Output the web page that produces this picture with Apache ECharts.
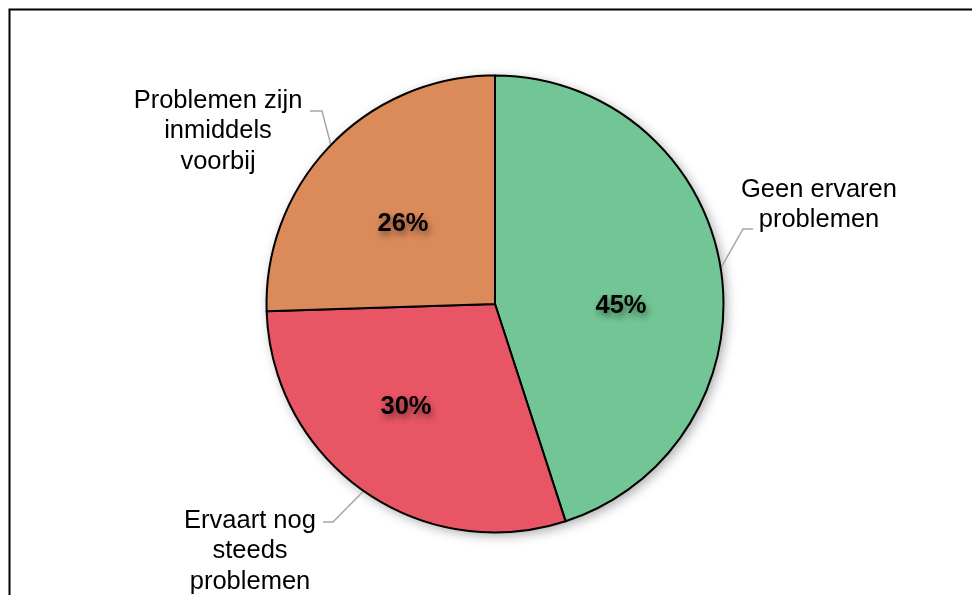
<!DOCTYPE html>
<html>
<head>
<meta charset="utf-8">
<script src="https://cdn.jsdelivr.net/npm/echarts@6/dist/echarts.min.js"></script>
<style>
html,body{margin:0;padding:0;background:#fff;}
#chart{width:972px;height:595px;}
</style>
</head>
<body>
<div id="chart"></div>
<script>
const categories = ['Geen ervaren\nproblemen', 'Ervaart nog\nsteeds\nproblemen', 'Problemen zijn\ninmiddels\nvoorbij'];
const values = [45, 29.5, 25.5];
const colors = ['#72C594', '#E85565', '#DB8A5A'];

// label placement (centre of text block) and line elbows
const outerLabelPos = [[819, 205], [250, 551], [218, 131]];
const outerLineElbow = [[[743, 229], [753, 229]], [[333, 522], [323, 522]], [[322, 111], [310, 111]]];
const innerLabelPos = [[621, 306], [406, 407], [403, 224]];

const FONT = '"Liberation Sans", Arial, sans-serif';
const center = [495, 304];
const radius = 228.5;

const data = categories.map((c, i) => ({ name: c, value: values[i], itemStyle: { color: colors[i] } }));

const chart = echarts.init(document.getElementById('chart'), null, { renderer: 'canvas' });
chart.setOption({
  animation: false,
  backgroundColor: '#fff',
  graphic: [{
    type: 'rect',
    shape: { x: 9.5, y: 9.5, width: 1000, height: 1000 },
    style: { fill: 'none', stroke: '#000', lineWidth: 2 },
    silent: true, z: 100
  }],
  series: [
    {
      type: 'pie',
      center: center,
      radius: radius,
      startAngle: 90,
      clockwise: true,
      z: 1,
      silent: true,
      data: [{ value: 1, itemStyle: { color: '#fff' } }],
      label: { show: false },
      labelLine: { show: false },
      itemStyle: { shadowBlur: 12, shadowColor: 'rgba(0,0,0,0.35)', shadowOffsetX: 3, shadowOffsetY: 3 }
    },
    {
      type: 'pie',
      center: center,
      radius: radius,
      startAngle: 90,
      clockwise: true,
      z: 2,
      silent: true,
      data: data,
      itemStyle: { borderColor: '#000', borderWidth: 2 },
      label: {
        show: true,
        position: 'outside',
        fontFamily: FONT,
        fontSize: 25.5,
        lineHeight: 30.5,
        color: '#000',
        align: 'center'
      },
      labelLine: {
        show: true,
        length: 20,
        length2: 10,
        lineStyle: { color: '#A6A6A6', width: 1.5 }
      },
      labelLayout: function (params) {
        const i = params.dataIndex;
        const p0 = params.labelLinePoints ? params.labelLinePoints[0] : null;
        const res = {
          x: outerLabelPos[i][0],
          y: outerLabelPos[i][1],
          align: 'center',
          verticalAlign: 'middle'
        };
        if (p0) {
          res.labelLinePoints = [p0, outerLineElbow[i][0], outerLineElbow[i][1]];
        }
        return res;
      }
    },
    {
      type: 'pie',
      center: center,
      radius: radius,
      startAngle: 90,
      clockwise: true,
      z: 3,
      silent: true,
      data: data.map(d => ({ name: d.name, value: d.value, itemStyle: { color: 'rgba(0,0,0,0)' } })),
      itemStyle: { borderWidth: 0 },
      label: {
        show: true,
        position: 'inside',
        formatter: p => Math.round(p.value) + '%',
        fontFamily: FONT,
        fontSize: 25.5,
        fontWeight: 'bold',
        color: '#000',
        textShadowColor: 'rgba(0,0,0,0.45)',
        textShadowBlur: 6,
        textShadowOffsetX: 2,
        textShadowOffsetY: 4
      },
      labelLine: { show: false },
      labelLayout: function (params) {
        const i = params.dataIndex;
        return { x: innerLabelPos[i][0], y: innerLabelPos[i][1], align: 'center', verticalAlign: 'middle' };
      }
    }
  ]
});
</script>
</body>
</html>
